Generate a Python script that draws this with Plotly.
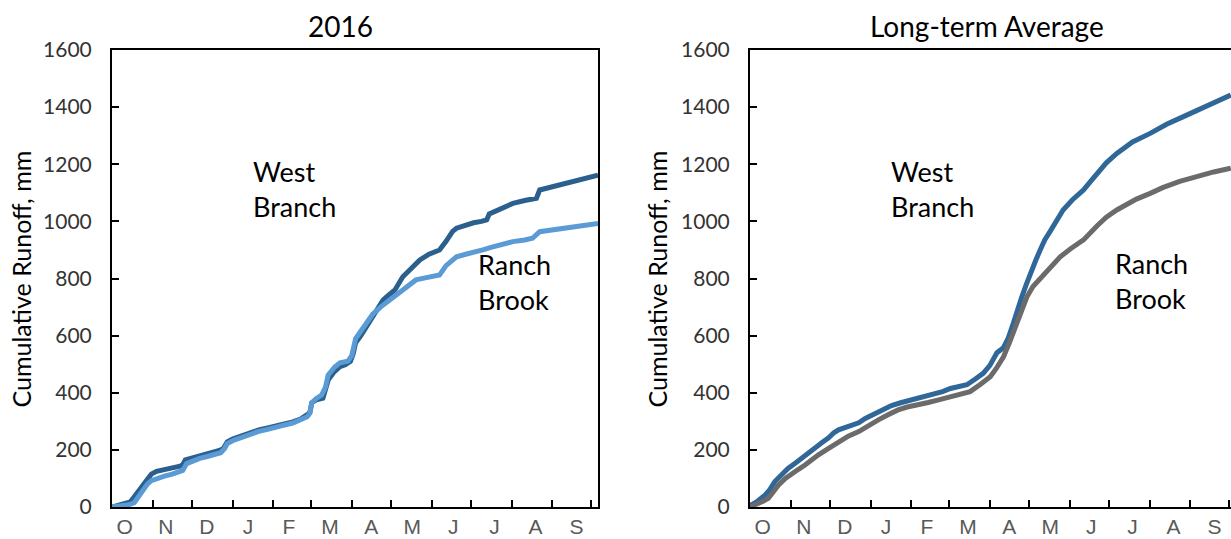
import plotly.graph_objects as go
import pandas as pd

# ---------------- data ----------------
month_labels = ["O", "N", "D", "J", "F", "M", "A", "M", "J", "J", "A", "S"]
y_tick_values = [0, 200, 400, 600, 800, 1000, 1200, 1400, 1600]
panel_titles = ["2016", "Long-term Average"]
y_title = "Cumulative Runoff, mm"

# 2016 water year, day index from 1 Oct
wb2016_day = [0, 5, 10, 14, 16, 20, 24, 27, 30, 34, 40, 46, 52, 54, 56, 62, 67, 75, 82, 85, 88, 92, 97,
              102, 107, 112, 118, 123, 130, 138, 144, 149, 151, 152.5, 156, 161, 163, 165, 169, 174, 178,
              182, 184, 186, 190, 194, 197, 202, 207, 212, 216, 222, 228, 235, 242, 250, 255, 260, 263,
              270, 276, 282, 286, 288, 295, 300, 306, 315, 324, 326.5, 335, 347, 360, 371]
wb2016_mm = [0, 5, 12, 18, 30, 55, 80, 100, 115, 125, 133, 137, 143, 148, 165, 172, 182, 190, 198, 205,
             228, 238, 246, 252, 264, 270, 276, 281, 288, 298, 308, 322, 330, 365, 375, 381, 410, 444, 470,
             491, 498, 510, 535, 575, 600, 630, 654, 690, 725, 745, 760, 806, 835, 865, 885, 900, 930, 965,
             976, 988, 995, 1000, 1005, 1026, 1040, 1052, 1063, 1073, 1081, 1110, 1120, 1133, 1148, 1162]

rb2016_day = [0, 8, 13, 17, 20, 24, 27, 30, 34, 40, 46, 52, 54, 57, 62, 67, 72, 79, 83, 86, 88, 92, 97,
              102, 107, 112, 118, 123, 130, 138, 144, 149, 151, 152.5, 156, 160, 163, 165, 170, 174, 180,
              183, 186, 190, 195, 199, 205, 212, 218, 225, 232, 240, 246, 250, 255, 260, 263, 270, 276,
              283, 290, 300, 306, 315, 321, 326.5, 335, 347, 360, 371]
rb2016_mm = [0, 3, 8, 15, 35, 58, 80, 92, 100, 108, 115, 122, 128, 152, 162, 170, 176, 183, 190, 205, 222,
             232, 240, 247, 258, 265, 271, 278, 285, 294, 304, 316, 328, 365, 380, 392, 420, 462, 490, 505,
             510, 530, 590, 615, 650, 675, 700, 725, 748, 775, 795, 803, 808, 812, 845, 868, 876, 885, 890,
             900, 910, 922, 929, 935, 941, 964, 970, 979, 986, 993]

# long-term average
wbavg_day = [0, 5, 11.6, 15, 19, 24, 29, 35, 39.6, 45, 50, 55, 60, 64, 67.6, 75, 83, 88, 93, 100, 108,
             115, 123.6, 131, 139, 147, 153, 160, 165.6, 172, 178, 183, 186, 188.5, 193.5, 197, 201, 204,
             207.5, 211, 214, 218, 221.5, 225, 229, 234, 239, 246, 254.6, 260, 264.8, 272, 280, 292,
             305.5, 318, 330, 342, 354, 367]
wbavg_mm = [5, 18, 42, 60, 89, 112, 135, 155, 172, 192, 211, 226, 242, 260, 270, 282, 295, 310, 322, 338,
            355, 365, 375, 384, 393, 404, 415, 422, 428, 448, 468, 495, 525, 540, 558, 590, 643, 690, 736,
            780, 818, 862, 900, 935, 964, 1003, 1040, 1075, 1110, 1140, 1168, 1205, 1238, 1278, 1308,
            1340, 1365, 1390, 1412, 1442]

rbavg_day = [0, 5, 10, 14, 18, 21.8, 27, 32, 37, 42, 47, 52, 60, 67.6, 75, 83, 90, 98, 105, 113, 120,
             128.6, 136, 144, 152.8, 160, 168, 176, 183.4, 188, 193.5, 198, 203.7, 207, 211.4, 216,
             221.5, 228, 236.8, 245, 254.6, 265, 272, 280, 287, 295, 305.5, 315, 328, 341, 354, 367]
rbavg_mm = [0, 8, 20, 30, 55, 77, 100, 118, 132, 147, 165, 182, 205, 229, 248, 264, 285, 305, 322, 340,
            350, 357, 366, 375, 386, 396, 404, 430, 456, 485, 526, 575, 643, 690, 736, 772, 800, 835, 876,
            905, 935, 985, 1015, 1040, 1060, 1078, 1098, 1118, 1140, 1158, 1173, 1186]

# ---------------- layout helpers ----------------
W, H = 1231, 539
ML, MR, MT, MB = 112, 0, 50, 32
PW, PH = W - ML - MR, H - MT - MB


def fx(p):
    return (p - ML) / PW


def fy(p):
    return (H - MB - p) / PH


# month boundaries (tick marks) in days from 1 Oct
starts = pd.date_range("2015-10-01", "2016-10-01", freq="MS")
boundaries = [(d - starts[0]).days for d in starts[1:]]
label_pos = [9.7 + 31.36 * i for i in range(len(month_labels))]

C_WB16 = "#2B5F8E"
C_RB16 = "#5B9BD5"
C_WBAVG = "#2F6798"
C_RBAVG = "#6B6B6B"

fig = go.Figure()
fig.add_trace(go.Scatter(x=wb2016_day, y=wb2016_mm, mode="lines", line=dict(color=C_WB16, width=5),
                         xaxis="x", yaxis="y", name="West Branch 2016"))
fig.add_trace(go.Scatter(x=rb2016_day, y=rb2016_mm, mode="lines", line=dict(color=C_RB16, width=5),
                         xaxis="x", yaxis="y", name="Ranch Brook 2016"))
fig.add_trace(go.Scatter(x=wbavg_day, y=wbavg_mm, mode="lines", line=dict(color=C_WBAVG, width=5),
                         xaxis="x2", yaxis="y2", name="West Branch avg"))
fig.add_trace(go.Scatter(x=rbavg_day, y=rbavg_mm, mode="lines", line=dict(color=C_RBAVG, width=5),
                         xaxis="x2", yaxis="y2", name="Ranch Brook avg"))

tickfont_y = dict(family="Lato", size=21, color="#333333")
tickfont_x = dict(family="Liberation Sans", size=21, color="#595959")


def xaxis_cfg(domain, rng):
    return dict(domain=domain, range=rng, showline=True, linecolor="black", linewidth=2, mirror=True,
                tickmode="array", tickvals=label_pos, ticktext=month_labels, ticks="",
                tickfont=tickfont_x, showgrid=False, zeroline=False, ticklabelstandoff=0,
                automargin=False,
                minor=dict(tickmode="array", tickvals=boundaries, ticks="inside", ticklen=7,
                           tickwidth=2, tickcolor="black", showgrid=False))


def yaxis_cfg(anchor, mirror):
    return dict(domain=[0, 1], range=[0, 1600], anchor=anchor, showline=True, linecolor="black",
                linewidth=2, mirror=mirror, tickmode="array", tickvals=y_tick_values, ticks="inside",
                ticklen=7, tickwidth=2, tickcolor="black", tickfont=tickfont_y, showgrid=False,
                zeroline=False, ticklabelstandoff=14, automargin=False)


x1_dom = [0, fx(598)]
x2_dom = [fx(750), 1]
fig.update_layout(
    width=W, height=H, margin=dict(l=ML, r=MR, t=MT, b=MB, autoexpand=False),
    paper_bgcolor="white", plot_bgcolor="white", showlegend=False,
    xaxis=dict(xaxis_cfg(x1_dom, [0, 371]), anchor="y"),
    yaxis=yaxis_cfg("x", True),
    xaxis2=dict(xaxis_cfg(x2_dom, [0, 481 / 1.31]), anchor="y2"),
    yaxis2=yaxis_cfg("x2", False),
)

txt = dict(family="Lato", color="black")
ann = []
ann.append(dict(text=panel_titles[0], x=fx(340.5), y=fy(26), font=dict(txt, size=28)))
ann.append(dict(text=panel_titles[1], x=fx(987), y=fy(26), font=dict(txt, size=28)))
for xc in (20, 656):
    ann.append(dict(text=y_title, x=fx(xc), y=fy(279.5), textangle=-90, font=dict(txt, size=25)))
for (xl, yc, t) in [(251, 189, "West<br>Branch"), (476, 282, "Ranch<br>Brook"),
                    (889, 189, "West<br>Branch"), (1113, 281, "Ranch<br>Brook")]:
    ann.append(dict(text=t, x=fx(xl), y=fy(yc), xanchor="left", align="left", font=dict(txt, size=27)))
for a in ann:
    a.setdefault("xanchor", "center")
    a.update(xref="paper", yref="paper", yanchor="middle", showarrow=False)
fig.update_layout(annotations=ann)

fig.write_html("out.html", config={"displayModeBar": False},
               post_script="document.body.style.margin='0px';")
